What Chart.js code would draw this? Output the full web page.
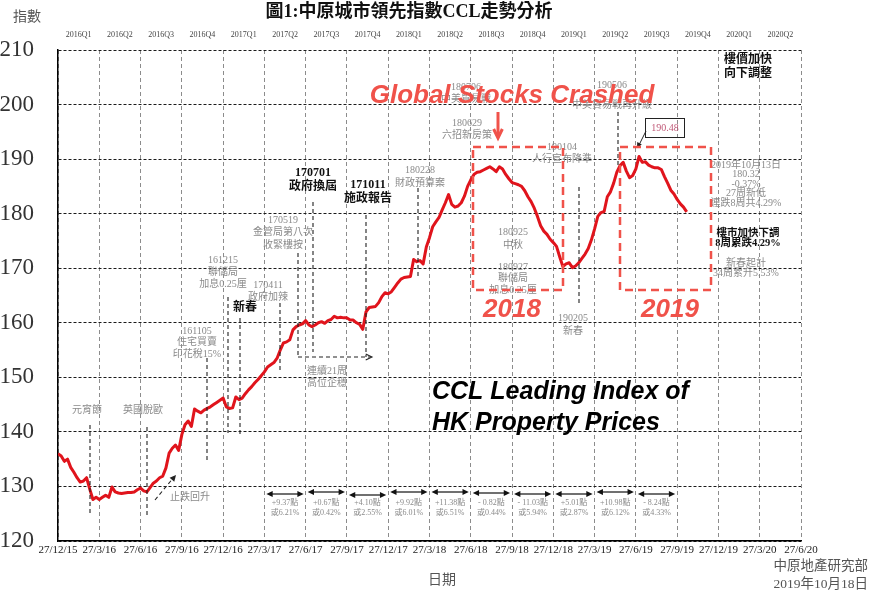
<!DOCTYPE html>
<html><head><meta charset="utf-8">
<script src="https://cdn.jsdelivr.net/npm/chart.js@4"></script>
<style>html,body{margin:0;padding:0;background:#fff;}</style>
</head><body>
<canvas id="c" width="870" height="601"></canvas>
<script>
// ---------------- DATA ----------------
const xTickLabels = ['27/12/15','27/3/16','27/6/16','27/9/16','27/12/16','27/3/17','27/6/17','27/9/17','27/12/17','27/3/18','27/6/18','27/9/18','27/12/18','27/3/19','27/6/19','27/9/19','27/12/19','27/3/20','27/6/20'];
const quarterLabels = ['2016Q1','2016Q2','2016Q3','2016Q4','2017Q1','2017Q2','2017Q3','2017Q4','2018Q1','2018Q2','2018Q3','2018Q4','2019Q1','2019Q2','2019Q3','2019Q4','2020Q1','2020Q2'];
const weeksPerQuarter = 13;
const yMin = 120, yMax = 210, yStep = 10;
// weekly CCL readings, week 0 = 27/12/2015
const cclWeekly = [
136.0,135.6,134.6,135.0,133.5,132.6,131.6,130.8,131.0,131.6,
129.5,127.6,128.0,127.6,128.0,128.4,128.0,129.9,129.0,128.8,
128.7,128.8,128.9,128.9,129.0,129.4,129.7,129.2,129.0,129.8,
130.6,131.0,131.6,131.9,133.4,136.1,137.0,137.6,136.6,139.5,
141.3,142.0,141.0,144.2,143.8,143.5,144.0,144.3,144.6,145.0,
145.4,145.8,146.2,144.6,144.3,144.4,146.4,145.9,146.2,147.0,
147.7,148.3,149.0,149.6,150.3,151.0,151.9,152.3,152.7,153.5,
155.0,156.3,156.5,156.9,158.7,159.3,159.6,159.8,160.4,159.6,
159.3,159.6,160.0,160.2,159.9,160.4,160.6,161.2,160.9,161.0,
160.9,160.9,160.5,160.5,160.0,159.7,158.8,162.0,162.8,162.9,
163.0,163.7,164.8,165.5,165.3,165.7,166.5,167.3,168.0,168.3,
168.4,168.5,171.6,171.2,171.4,170.8,173.9,175.6,177.6,178.5,
179.3,180.7,182.0,183.5,181.7,181.2,181.4,182.0,183.2,185.0,
186.2,187.2,187.6,187.7,188.0,188.3,188.6,188.2,187.7,188.6,
188.2,187.2,186.4,185.7,185.5,185.3,185.0,184.2,183.1,182.2,
181.0,179.5,177.8,176.8,176.2,175.3,174.7,174.0,172.1,170.3,
170.8,171.0,170.1,170.4,171.0,171.8,172.6,173.6,175.2,177.2,
179.5,180.2,180.4,183.1,184.0,185.6,187.6,188.8,189.4,187.8,
186.6,187.0,188.2,190.48,189.4,189.5,188.9,188.6,188.4,188.4,
188.1,186.8,185.6,184.3,183.6,182.6,181.8,181.2,180.32
];
const qChangeStart = 5; // first interval starts at 27/3/17
const qChangePts = ['+9.37點','+0.67點','+4.10點','+9.92點','+11.38點','- 0.82點','- 11.03點','+5.01點','+10.98點','- 8.24點'];
const qChangePct = ['或6.21%','或0.42%','或2.55%','或6.01%','或6.51%','或0.44%','或5.94%','或2.87%','或6.12%','或4.33%'];

// ---------------- DRAW HELPERS ----------------
const SERIF = "'Liberation Serif','Noto Sans CJK TC',serif";
const SANS = "'Liberation Sans','Noto Sans CJK TC',sans-serif";
const GRAY = '#8a8a8a';
const CORAL = '#f0524a';
function txt(ctx, s, x, y, font, color, align) {
  ctx.save(); ctx.font = font; ctx.fillStyle = color; ctx.textAlign = align || 'center'; ctx.textBaseline = 'middle';
  ctx.fillText(s, x, y); ctx.restore();
}
function lines(ctx, arr, x, y, lh, font, color, align) {
  arr.forEach((s, i) => txt(ctx, s, x, y + i * lh, font, color, align));
}
function dline(ctx, x1, y1, x2, y2, dash, color, w) {
  ctx.save(); ctx.strokeStyle = color || '#111'; ctx.lineWidth = w || 1.1; ctx.setLineDash(dash || [4, 3]);
  ctx.beginPath(); ctx.moveTo(x1, y1); ctx.lineTo(x2, y2); ctx.stroke(); ctx.restore();
}
function head(ctx, x1, y1, x2, y2, size, filled, color, w) {
  const a = Math.atan2(y2 - y1, x2 - x1);
  const p1 = [x2 - size * Math.cos(a - 0.45), y2 - size * Math.sin(a - 0.45)];
  const p2 = [x2 - size * Math.cos(a + 0.45), y2 - size * Math.sin(a + 0.45)];
  ctx.save(); ctx.setLineDash([]); ctx.strokeStyle = color; ctx.fillStyle = color; ctx.lineWidth = w || 1;
  ctx.beginPath(); ctx.moveTo(p1[0], p1[1]); ctx.lineTo(x2, y2); ctx.lineTo(p2[0], p2[1]);
  if (filled) { ctx.closePath(); ctx.fill(); } else ctx.stroke();
  ctx.restore();
}

const annotations = {
  id: 'annotations',
  afterDatasetsDraw(chart) {
    const ctx = chart.ctx;
    const xs = chart.scales.x;
    // header texts
    txt(ctx, '圖1:中原城市領先指數CCL走勢分析', 409, 12, "bold 18px " + SERIF, '#111');
    txt(ctx, '指數', 27, 17, "14px " + SERIF, '#555');
    quarterLabels.forEach((q, i) => txt(ctx, q, xs.getPixelForValue((i + 0.5) * weeksPerQuarter), 35, "8px " + SERIF, '#444'));
    txt(ctx, '日期', 442, 580, "14px " + SERIF, '#555');
    txt(ctx, '中原地產研究部', 868, 566, "13.5px " + SERIF, '#555', 'right');
    txt(ctx, '2019年10月18日', 868, 584, "13.5px " + SERIF, '#555', 'right');

    // event dashed lines
    [[90,425,515],[147,427,515],[207,358,460],[228,297,433],[240,318,437],[280,303,373],
     [298,253,355],[313,202,352],[366,215,357],[418,188,277],[579,187,303],[618,112,167]]
      .forEach(l => dline(ctx, l[0], l[1], l[0], l[2], [4, 3], '#222', 1.1));

    // grey notes
    const g = "10px " + SERIF;
    txt(ctx, '元宵節', 87, 410, g, GRAY);
    txt(ctx, '英國脫歐', 143, 410, g, GRAY);
    txt(ctx, '止跌回升', 190, 497, g, GRAY);
    lines(ctx, ['161105','住宅買賣','印花稅15%'], 197, 331, 11.5, g, GRAY);
    lines(ctx, ['161215','聯儲局','加息0.25厘'], 223, 260, 12, g, GRAY);
    lines(ctx, ['170411','政府加辣'], 268, 285, 12, g, GRAY);
    lines(ctx, ['170519','金管局第八次','收緊樓按'], 283, 220, 12.5, g, GRAY);
    lines(ctx, ['連續21周','高位企穩'], 327, 371, 12, g, GRAY);
    lines(ctx, ['180228','財政預算案'], 420, 170, 13, g, GRAY);
    lines(ctx, ['180706','中美貿易戰'], 466, 87, 12, g, GRAY);
    lines(ctx, ['180629','六招新房策'], 467, 123, 12, g, GRAY);
    lines(ctx, ['190104','人行宣布降準'], 562, 147, 12.5, g, GRAY);
    lines(ctx, ['190506','中美貿易戰再升級'], 612, 85, 20, g, GRAY);
    lines(ctx, ['180925','中秋'], 513, 232, 13, g, GRAY);
    lines(ctx, ['180927','聯儲局','加息0.25厘'], 513, 267, 11.5, g, GRAY);
    lines(ctx, ['190205','新春'], 573, 318, 13, g, GRAY);
    lines(ctx, ['2019年10月13日','180.32','-0.37%','27周新低','連跌8周共4.29%'], 746, 165, 9.6, g, GRAY);
    lines(ctx, ['新春起計','34周累升5.53%'], 746, 263, 10.5, g, GRAY);

    // bold notes
    const b = "bold 12px " + SERIF;
    txt(ctx, '新春', 245, 308, b, '#111');
    lines(ctx, ['170701','政府換屆'], 313, 173, 14, b, '#111');
    lines(ctx, ['171011','施政報告'], 368, 185, 14, b, '#111');
    lines(ctx, ['樓價加快','向下調整'], 748, 60, 13.5, b, '#111');
    lines(ctx, ['樓市加快下調','8周累跌4.29%'], 748, 233, 10.5, "bold 10.5px " + SERIF, '#111');

    // small arrows
    dline(ctx, 155, 500, 174, 477, [4, 3], '#222', 1.1);
    head(ctx, 155, 500, 176, 475, 7, true, '#222');
    dline(ctx, 298, 357, 371, 357, [4, 3], '#222', 1.1);
    head(ctx, 298, 357, 372, 357, 7, false, '#222', 1.1);

    // 190.48 box
    ctx.save(); ctx.strokeStyle = '#222'; ctx.lineWidth = 1; ctx.strokeRect(645.5, 118.5, 39, 19); ctx.restore();
    txt(ctx, '190.48', 665, 128, "10px " + SERIF, '#c05a78');
    dline(ctx, 646, 131, 638, 147, [], '#222', 1);
    head(ctx, 646, 131, 637, 148, 6, true, '#222');

    // bottom quarter-change arrows
    const ay = [494, 492, 495, 492, 492, 493, 494, 494, 492, 494];
    qChangePts.forEach((p, i) => {
      const q = qChangeStart + i;
      const x1 = xs.getPixelForValue(q * weeksPerQuarter) + 2;
      const x2 = xs.getPixelForValue((q + 1) * weeksPerQuarter) - 2;
      dline(ctx, x1 + 4, ay[i], x2 - 4, ay[i], [], '#111', 1.2);
      head(ctx, x2, ay[i], x1, ay[i], 7, true, '#111');
      head(ctx, x1, ay[i], x2, ay[i], 7, true, '#111');
      const cx = (x1 + x2) / 2;
      txt(ctx, p, cx, 503, "8px " + SERIF, GRAY);
      txt(ctx, qChangePct[i], cx, 513, "8px " + SERIF, GRAY);
    });

    // red dashed boxes
    ctx.save(); ctx.strokeStyle = CORAL; ctx.lineWidth = 2.5; ctx.setLineDash([8, 5]);
    ctx.strokeRect(473, 147, 90, 143);
    ctx.strokeRect(620, 147, 91, 143);
    ctx.restore();

    // big labels
    const rb = "italic bold 26px " + SANS;
    txt(ctx, 'Global Stocks Crashed', 512, 96, rb, CORAL);
    txt(ctx, '2018', 512, 310, rb, CORAL);
    txt(ctx, '2019', 670, 310, rb, CORAL);
    dline(ctx, 498, 112, 498, 136, [], CORAL, 3);
    head(ctx, 498, 112, 498, 138, 10, false, CORAL, 3);
    txt(ctx, 'CCL Leading Index of', 432, 392, "italic bold 25px " + SANS, '#000', 'left');
    txt(ctx, 'HK Property Prices', 432, 423, "italic bold 25px " + SANS, '#000', 'left');
  }
};

new Chart(document.getElementById('c'), {
  type: 'line',
  data: {
    datasets: [{
      data: cclWeekly.map((v, i) => ({ x: i, y: v })),
      borderColor: '#e0141c',
      borderWidth: 3,
      pointRadius: 0,
      tension: 0,
      borderJoinStyle: 'round',
      fill: false
    }]
  },
  options: {
    responsive: false,
    animation: false,
    devicePixelRatio: 1,
    layout: { padding: { top: 50, right: 69, bottom: 0, left: 0 } },
    plugins: { legend: { display: false }, tooltip: { enabled: false }, title: { display: false } },
    scales: {
      x: {
        type: 'linear',
        min: 0,
        max: weeksPerQuarter * (xTickLabels.length - 1),
        afterBuildTicks: s => { s.ticks = xTickLabels.map((_, i) => ({ value: i * weeksPerQuarter })); },
        afterFit: s => { s.height = 60; },
        ticks: {
          autoSkip: false, maxRotation: 0, padding: 3,
          font: { family: SERIF, size: 11 }, color: '#222',
          callback: (v, i) => xTickLabels[i]
        },
        grid: { color: '#8c8c8c', lineWidth: 1, drawTicks: false },
        border: { display: true, color: '#000', width: 1.5, dash: [4, 3] }
      },
      y: {
        min: yMin, max: yMax,
        afterBuildTicks: s => { const t = []; for (let v = yMin; v <= yMax; v += yStep) t.push({ value: v }); s.ticks = t; },
        afterFit: s => { s.width = 58; },
        ticks: { padding: 24, font: { family: SERIF, size: 23 }, color: '#333' },
        grid: { color: '#1a1a1a', lineWidth: 1, drawTicks: false },
        border: { display: true, color: '#000', width: 1.5, dash: [3, 2] }
      }
    }
  },
  plugins: [annotations]
});
</script>
</body></html>
